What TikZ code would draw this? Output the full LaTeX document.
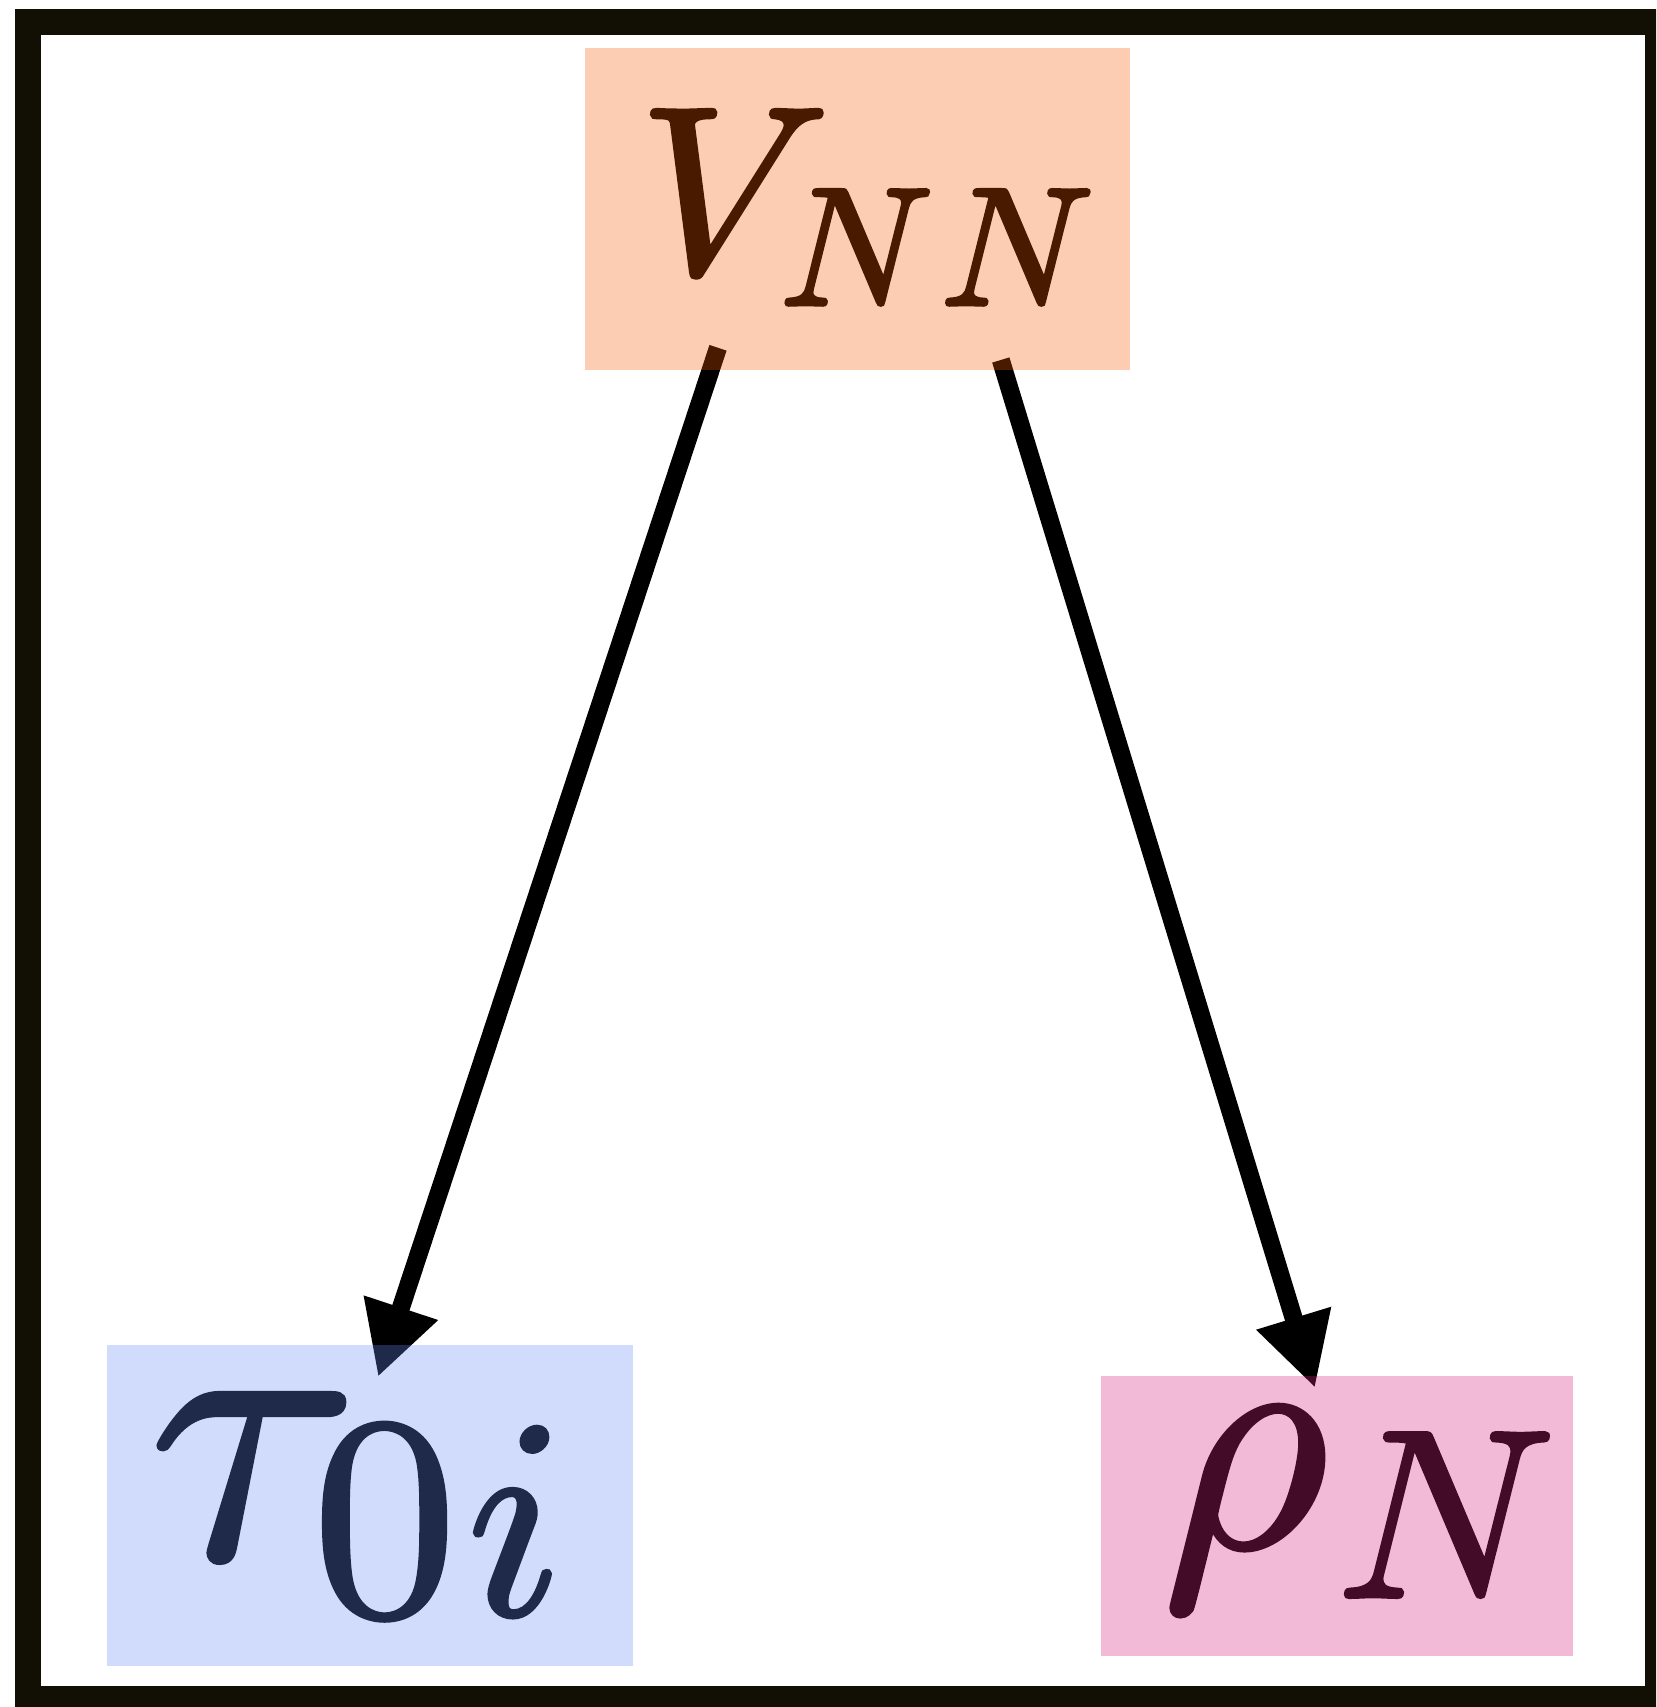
\documentclass[tikz,border=0pt]{standalone}
\usetikzlibrary{arrows.meta}
\font\fVa=cmmi10 at 119pt
\font\fVb=cmmi10 at 84pt
\font\fTa=cmmi10 at 192pt
\font\fTb=cmmi10 at 142pt
\font\fTr=cmr10 at 144pt
\font\fRa=cmmi10 at 161pt
\font\fRb=cmmi10 at 120pt
\newcommand\heavytext[1]{\special{pdf:literal direct 2 Tr 2 w}#1\special{pdf:literal direct 0 Tr}}
\definecolor{framec}{RGB}{18,15,4}
\definecolor{orangeC}{RGB}{249,88,0}
\definecolor{blueC}{RGB}{103,139,245}
\definecolor{pinkC}{RGB}{217,38,128}
\tikzset{
  frame/.style={draw=framec, line width=13pt},
  box/.style={rectangle, inner sep=0pt, outer sep=0pt, text=black},
  arr/.style={draw=black, line width=9pt, line cap=butt,
    -{Triangle[length=36.5pt,width=36.5pt]}},
}
\begin{document}
\begin{tikzpicture}[x=0.5pt,y=-0.5pt]
\useasboundingbox (0,0) rectangle (1656,1707);
\clip (0,0) rectangle (1656,1707);
\fill[white] (0,0) rectangle (1656,1707);
\draw[frame] (28,22) rectangle (1658,1699);

\node[box, minimum width=272.75pt, minimum height=161.15pt] (V) at (857.45,209.05)
  {\heavytext{\smash{\lower31.7pt\hbox{\fVa V\kern1.25pt\lower16.15pt\hbox{\fVb N\/\kern3.75pt N}\kern0.25pt}}}};
\node[box, minimum width=262.95pt, minimum height=160.6pt] (tau) at (369.65,1505.3)
  {\heavytext{\smash{\lower26.55pt\hbox{\kern1.5pt\fTa\char"1C\kern-1.65pt\lower28pt\hbox{\fTr 0\kern5pt\fTb i}\kern14.8pt}}}};
\node[box, minimum width=236.25pt, minimum height=139.9pt] (rho) at (1337.05,1516.2)
  {\heavytext{\smash{\lower15.4pt\hbox{\kern8.5pt\fRa\char"1A\kern4.15pt\lower25pt\hbox{\fRb N}}}}};

\draw[arr] ([shift={(133.3,-22.4)}]V.south west) -- ([shift={(271.3,32.3)}]tau.north west);
\draw[arr] ([shift={(416.1,-10.2)}]V.south west) -- ([shift={(214.2,11.7)}]rho.north west);

\fill[orangeC, fill opacity=0.297] (V.south west) rectangle (V.north east);
\fill[blueC, fill opacity=0.302] (tau.south west) rectangle (tau.north east);
\fill[pinkC, fill opacity=0.313] (rho.south west) rectangle (rho.north east);
\end{tikzpicture}
\end{document}
